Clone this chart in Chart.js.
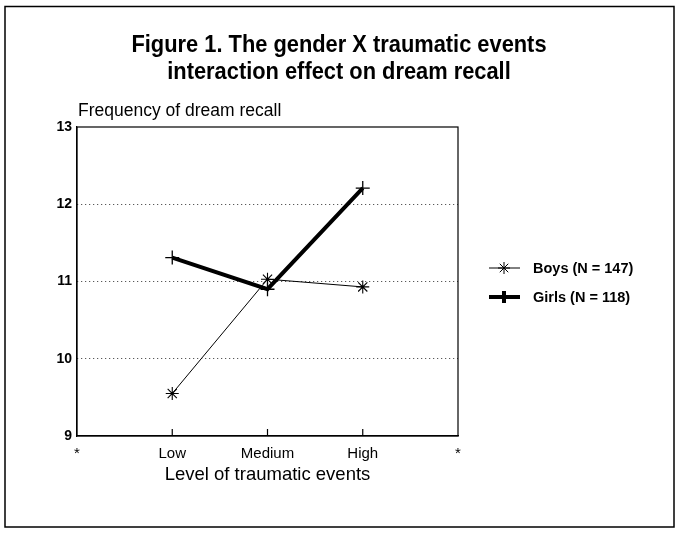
<!DOCTYPE html>
<html>
<head>
<meta charset="utf-8">
<script src="https://cdn.jsdelivr.net/npm/chart.js@4.4.0/dist/chart.umd.min.js"></script>
<style>
  html, body { margin: 0; padding: 0; background: #fff; }
  #wrap { width: 677px; height: 534px; position: relative; }
</style>
</head>
<body>
<div id="wrap"><canvas id="chart"></canvas></div>
<script>
// Data
const categories = ['*', 'Low', 'Medium', 'High', '*'];
const boysValues = [null, 9.55, 11.03, 10.93, null];
const girlsValues = [null, 11.31, 10.9, 12.21, null];
const yTicks = [9, 10, 11, 12, 13];
const titleLines = ['Figure 1. The gender X traumatic events', 'interaction effect on dream recall'];
const yAxisLabel = 'Frequency of dream recall';
const xAxisLabel = 'Level of traumatic events';
const boysLabel = 'Boys (N = 147)';
const girlsLabel = 'Girls (N = 118)';

const FONT = '"Liberation Sans", Arial, sans-serif';

// frame around the figure, title, box around the plot, y label and legend
const figurePlugin = {
    id: 'figurePlugin',
    beforeDraw(chart) {
        const ctx = chart.ctx;
        ctx.save();
        ctx.fillStyle = '#fff';
        ctx.fillRect(0, 0, chart.width, chart.height);
        ctx.strokeStyle = '#000';
        ctx.lineWidth = 1.5;
        ctx.strokeRect(5, 6.5, 669, 520.5);

        // title, slightly condensed like the original typeface
        ctx.fillStyle = '#000';
        ctx.font = 'bold 24px ' + FONT;
        ctx.textAlign = 'center';
        ctx.textBaseline = 'alphabetic';
        const cx = 339;
        [52, 79].forEach((by, i) => {
            ctx.save();
            ctx.translate(cx, by);
            ctx.scale(0.91, 1);
            ctx.fillText(titleLines[i], 0, 0);
            ctx.restore();
        });
        ctx.restore();
    },
    afterDatasetsDraw(chart) {
        const ctx = chart.ctx;
        const a = chart.chartArea;
        const x = chart.scales.x;
        ctx.save();
        ctx.strokeStyle = '#000';
        ctx.lineWidth = 1.2;
        ctx.strokeRect(a.left, a.top, a.right - a.left, a.bottom - a.top);
        // inward ticks on the category axis
        for (let i = 1; i < categories.length - 1; i++) {
            const px = x.getPixelForValue(i);
            ctx.beginPath();
            ctx.moveTo(px, a.bottom);
            ctx.lineTo(px, a.bottom - 7);
            ctx.stroke();
        }
        // y axis title, horizontal above the plot
        ctx.fillStyle = '#000';
        ctx.font = '17.5px ' + FONT;
        ctx.textBaseline = 'alphabetic';
        ctx.textAlign = 'left';
        ctx.fillText(yAxisLabel, a.left + 1, a.top - 11);

        // legend
        const lx = 489, tx = 533;
        const rows = [[268, 0], [297, 1]];
        rows.forEach(([ly, di]) => {
            const ds = chart.data.datasets[di];
            ctx.lineWidth = ds.borderWidth;
            ctx.beginPath();
            ctx.moveTo(lx, ly);
            ctx.lineTo(lx + 31, ly);
            ctx.stroke();
            Chart.helpers.drawPoint(ctx, {pointStyle: ds.pointStyle, radius: 6, rotation: 0, borderWidth: 1.2}, lx + 15, ly);
            ctx.font = 'bold 14.5px ' + FONT;
            ctx.textBaseline = 'middle';
            ctx.fillText(ds.label, tx, ly + 1);
        });
        ctx.restore();
    }
};

new Chart(document.getElementById('chart'), {
    type: 'line',
    data: {
        labels: categories,
        datasets: [
            {
                label: boysLabel,
                data: boysValues,
                borderColor: '#000',
                backgroundColor: '#000',
                borderWidth: 1,
                pointStyle: 'star',
                pointRadius: 6.5,
                pointBorderWidth: 1.1,
                pointBorderColor: '#000',
                tension: 0
            },
            {
                label: girlsLabel,
                data: girlsValues,
                borderColor: '#000',
                backgroundColor: '#000',
                borderWidth: 4,
                pointStyle: 'cross',
                pointRadius: 7,
                pointBorderWidth: 1.3,
                pointBorderColor: '#000',
                tension: 0
            }
        ]
    },
    options: {
        responsive: true,
        maintainAspectRatio: false,
        animation: false,
        layout: {
            padding: { top: 127, right: 219, bottom: 48, left: 0 }
        },
        plugins: {
            legend: { display: false },
            tooltip: { enabled: false },
            title: { display: false }
        },
        scales: {
            x: {
                type: 'category',
                offset: false,
                grid: { display: false, drawTicks: false },
                border: { display: true, color: '#000', width: 1.2 },
                ticks: {
                    color: '#000',
                    padding: 9,
                    autoSkip: false,
                    maxRotation: 0,
                    font: { family: FONT, size: 15 }
                },
                title: {
                    display: true,
                    text: xAxisLabel,
                    color: '#000',
                    padding: { top: 0, bottom: 0 },
                    font: { family: FONT, size: 18.5 }
                },
                afterFit(scale) { scale.height = 50; }
            },
            y: {
                min: 9,
                max: 13,
                afterBuildTicks(scale) {
                    scale.ticks = yTicks.map(v => ({ value: v }));
                },
                grid: {
                    drawTicks: false,
                    color: ctx => (ctx.tick && (ctx.tick.value === 10 || ctx.tick.value === 11 || ctx.tick.value === 12)) ? '#333' : 'rgba(0,0,0,0)',
                    lineWidth: 1
                },
                border: { display: true, color: '#000', width: 1.2, dash: [1, 3] },
                ticks: {
                    color: '#000',
                    padding: 5,
                    font: { family: FONT, size: 14, weight: 'bold' }
                },
                afterFit(scale) { scale.width = 77; }
            }
        }
    },
    plugins: [figurePlugin]
});
</script>
</body>
</html>
